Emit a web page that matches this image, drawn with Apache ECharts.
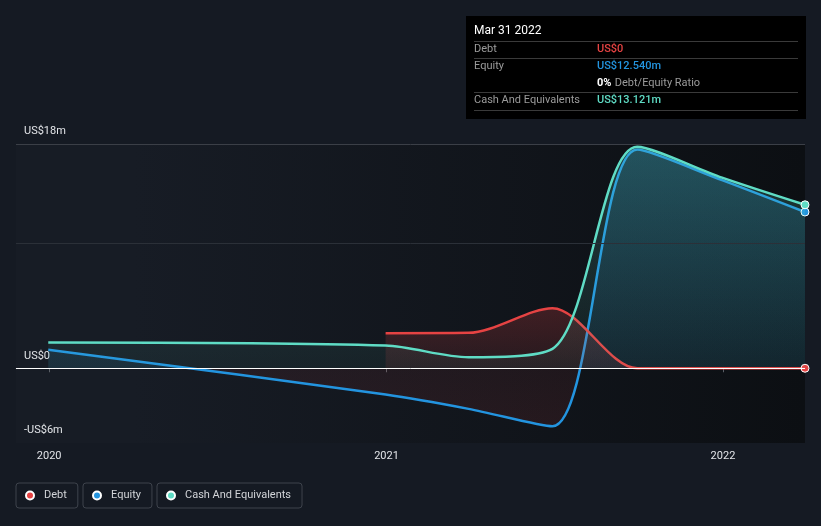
<!DOCTYPE html>
<html>
<head>
<meta charset="utf-8">
<script src="https://cdn.jsdelivr.net/npm/echarts@6/dist/echarts.min.js"></script>
<style>
html,body{margin:0;padding:0;background:#151a23;}
#c{width:821px;height:526px;}
</style>
</head>
<body>
<div id="c"></div>
<script>
// ---- data ----
var dates = ['2019-12-31', '2020-12-31', '2021-03-31', '2021-06-30', '2021-09-30', '2021-12-31', '2022-03-31'];
var debt = [null, 2.81, 2.84, 4.82, 0, 0, 0];
var equity = [1.48, -2.11, -3.26, -4.66, 17.56, 15.1, 12.54];
var cash = [2.06, 1.82, 0.88, 1.56, 17.78, 15.3, 13.121];
var yTickValues = [-6, 0, 18];
var xTickYears = [2020, 2021, 2022];
var seriesNames = ['Debt', 'Equity', 'Cash And Equivalents'];
var tooltipTitle = 'Mar 31 2022';
var tooltipDebt = 'US$0';
var tooltipEquity = 'US$12.540m';
var tooltipRatio = '0%';
var tooltipCash = 'US$13.121m';

function ts(d) { var p = d.split('-'); return Date.UTC(+p[0], +p[1] - 1, +p[2]); }
function pairs(vals) {
  var out = [];
  for (var i = 0; i < vals.length; i++) {
    if (vals[i] === null) continue;
    var item = { value: [ts(dates[i]), vals[i]] };
    if (i === vals.length - 1) {
      item.symbol = 'circle';
      item.symbolSize = 8;
    }
    out.push(item);
  }
  return out;
}
var FONT = 'Roboto';
var RED = '#e64343', BLUE = '#2394df', CYAN = '#5fdcc5';
var SMOOTH = 0.3;

var eqMax = Math.max.apply(null, equity), eqMin = Math.min.apply(null, equity);
var eqZero = eqMax / (eqMax - eqMin);

var chart = echarts.init(document.getElementById('c'), null, { renderer: 'canvas' });

function legendFor(name, left) {
  return {
    data: [name], left: left, top: 483, orient: 'horizontal',
    icon: 'circle', itemWidth: 18, itemHeight: 8,
    borderColor: '#3e434c', borderWidth: 1, borderRadius: 3,
    padding: [7, 11, 7, 9],
    textStyle: { color: '#d2d4d8', fontSize: 11, fontFamily: FONT },
    selectedMode: false
  };
}

var option = {
  backgroundColor: '#151a23',
  animation: false,
  grid: {
    left: 16, right: 16, top: 144, bottom: 83,
    show: true, borderWidth: 0,
    backgroundColor: {
      type: 'linear', x: 0, y: 0, x2: 1, y2: 0,
      colorStops: [{ offset: 0, color: '#171c25' }, { offset: 0.15, color: '#171c25' }, { offset: 1, color: '#0c0f13' }]
    }
  },
  legend: [legendFor(seriesNames[0], 16), legendFor(seriesNames[1], 83), legendFor(seriesNames[2], 157)],
  xAxis: {
    type: 'value',
    min: Date.UTC(2019, 10, 26),
    max: Date.UTC(2022, 2, 31),
    axisLine: { show: true, lineStyle: { color: '#3c4049', width: 1 } },
    axisTick: { show: true, length: 4, lineStyle: { color: '#5a5e66' },
      customValues: xTickYears.map(function (y) { return Date.UTC(y, 0, 1); }) },
    axisLabel: {
      color: '#e2e4e8', fontSize: 11, fontFamily: FONT, margin: 8,
      customValues: xTickYears.map(function (y) { return Date.UTC(y, 0, 1); }),
      formatter: function (v) { return String(new Date(v).getUTCFullYear()); }
    },
    splitLine: { show: false }
  },
  yAxis: {
    type: 'value', min: -6, max: 18,
    axisLine: { show: false }, axisTick: { show: false }, splitLine: { show: false },
    axisLabel: {
      inside: true, margin: 8, color: '#e2e4e8', fontSize: 11, fontFamily: FONT,
      verticalAlign: 'bottom', lineHeight: 25,
      customValues: yTickValues,
      formatter: function (v) {
        if (v === 0) return 'US$0';
        return (v < 0 ? '-' : '') + 'US$' + Math.abs(v) + 'm';
      }
    }
  },
  series: [
    {
      name: seriesNames[0], type: 'line', data: pairs(debt), z: 3,
      smooth: SMOOTH, symbol: 'none',
      lineStyle: { color: RED, width: 2.5 },
      itemStyle: { color: RED, borderColor: '#ffffff', borderWidth: 1 },
      areaStyle: {
        color: { type: 'linear', x: 0, y: 0, x2: 0, y2: 1,
          colorStops: [{ offset: 0, color: 'rgba(230,67,67,0.32)' }, { offset: 1, color: 'rgba(230,67,67,0.14)' }] }
      },
      markLine: {
        silent: true, symbol: 'none', label: { show: false },
        data: [
          { yAxis: 18, lineStyle: { color: '#3b3f47', width: 1, type: 'solid' } },
          { yAxis: 10, lineStyle: { color: '#2b3038', width: 1, type: 'solid' } },
          { yAxis: 0, lineStyle: { color: '#ffffff', width: 1, type: 'solid' } }
        ]
      }
    },
    {
      name: seriesNames[1], type: 'line', data: pairs(equity), z: 2,
      smooth: SMOOTH, symbol: 'none',
      lineStyle: { color: BLUE, width: 2.5 },
      itemStyle: { color: BLUE, borderColor: '#ffffff', borderWidth: 1 },
      areaStyle: {
        color: { type: 'linear', x: 0, y: 0, x2: 0, y2: 1,
          colorStops: [
            { offset: 0, color: 'rgba(35,148,223,0.30)' },
            { offset: eqZero, color: 'rgba(35,148,223,0.12)' },
            { offset: eqZero, color: 'rgba(230,67,67,0.10)' },
            { offset: 1, color: 'rgba(230,67,67,0.14)' }
          ] }
      }
    },
    {
      name: seriesNames[2], type: 'line', data: pairs(cash), z: 4,
      smooth: SMOOTH, symbol: 'none',
      lineStyle: { color: CYAN, width: 2.5 },
      itemStyle: { color: CYAN, borderColor: '#ffffff', borderWidth: 1 },
      areaStyle: {
        color: { type: 'linear', x: 0, y: 0, x2: 0, y2: 1,
          colorStops: [{ offset: 0, color: 'rgba(95,220,197,0.30)' }, { offset: 1, color: 'rgba(95,220,197,0.08)' }] }
      }
    }
  ],
  graphic: [
    { type: 'rect', shape: { x: 466, y: 16, width: 340, height: 103 }, style: { fill: '#000000' }, z: 100 },
    { type: 'text', x: 474, y: 31, z: 101, style: { text: tooltipTitle, fill: '#ffffff', font: '12px Roboto', verticalAlign: 'middle' } },
    { type: 'line', shape: { x1: 474, y1: 41.5, x2: 798, y2: 41.5 }, style: { stroke: '#3a3a3a', lineWidth: 1 }, z: 101 },
    { type: 'text', x: 474, y: 49.5, z: 101, style: { text: seriesNames[0], fill: '#9b9b9b', font: '11px Roboto', verticalAlign: 'middle' } },
    { type: 'text', x: 597, y: 49.5, z: 101, style: { text: tooltipDebt, fill: RED, font: '500 11px Roboto', verticalAlign: 'middle' } },
    { type: 'line', shape: { x1: 474, y1: 58.5, x2: 798, y2: 58.5 }, style: { stroke: '#3a3a3a', lineWidth: 1 }, z: 101 },
    { type: 'text', x: 474, y: 66.5, z: 101, style: { text: seriesNames[1], fill: '#9b9b9b', font: '11px Roboto', verticalAlign: 'middle' } },
    { type: 'text', x: 597, y: 66.5, z: 101, style: { text: tooltipEquity, fill: BLUE, font: '500 11px Roboto', verticalAlign: 'middle' } },
    { type: 'text', x: 597, y: 83.5, z: 101, style: {
      text: '{b|' + tooltipRatio + '} {g|Debt/Equity Ratio}', verticalAlign: 'middle',
      rich: { b: { fill: '#ffffff', fontWeight: 'bold', fontSize: 11, fontFamily: FONT }, g: { fill: '#9b9b9b', fontSize: 11, fontFamily: FONT } }
    } },
    { type: 'line', shape: { x1: 474, y1: 92.5, x2: 798, y2: 92.5 }, style: { stroke: '#3a3a3a', lineWidth: 1 }, z: 101 },
    { type: 'text', x: 474, y: 100.5, z: 101, style: { text: seriesNames[2], fill: '#9b9b9b', font: '11px Roboto', verticalAlign: 'middle' } },
    { type: 'text', x: 597, y: 100.5, z: 101, style: { text: tooltipCash, fill: CYAN, font: '500 11px Roboto', verticalAlign: 'middle' } },
    { type: 'line', shape: { x1: 474, y1: 110.5, x2: 798, y2: 110.5 }, style: { stroke: '#3a3a3a', lineWidth: 1 }, z: 101 }
  ]
};
chart.setOption(option);
</script>
</body>
</html>
